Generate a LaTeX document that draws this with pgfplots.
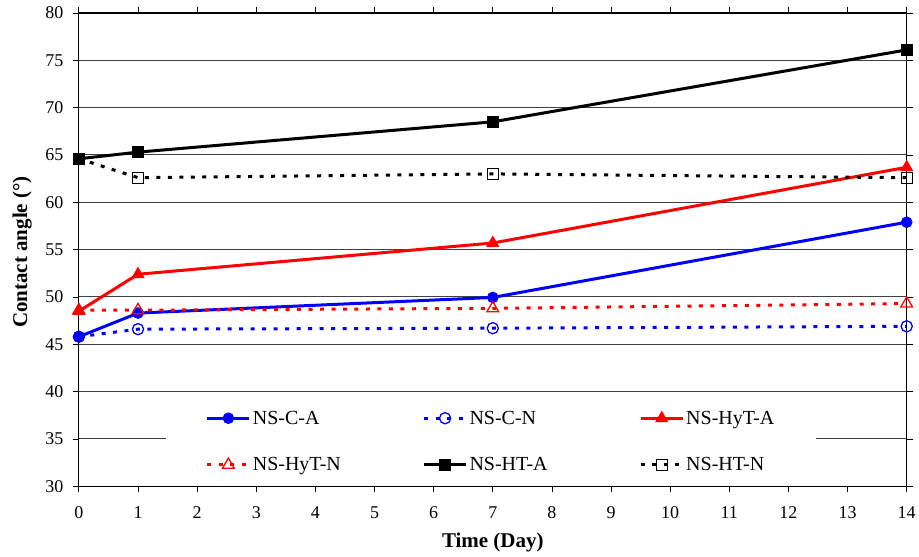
\documentclass[border=0pt]{standalone}
\usepackage{fontspec}
\setmainfont{Liberation Serif}
\usepackage{pgfplots}
\pgfplotsset{compat=1.18}
\begin{document}
\begin{tikzpicture}
\begin{axis}[
  scale only axis, width=829bp, height=474bp,
  xmin=0, xmax=14, ymin=30, ymax=80,
  xtick={0,1,...,14}, ytick={30,35,...,80},
  tick align=outside, major tick length=6bp,
  tick style={black, line width=0.8bp},
  axis line style={black, line width=1.2bp},
  ymajorgrids, grid style={black!75, line width=1bp},
  /pgf/number format/assume math mode=true,
  tick label style={font=\fontsize{18bp}{20bp}\selectfont},
  xticklabel style={yshift=-11bp},
  yticklabel style={xshift=-6bp},
  xlabel={\textbf{Time (Day)}},
  ylabel={\textbf{Contact angle (°)}},
  label style={font=\fontsize{21bp}{24bp}\selectfont},
  xlabel style={at={(axis description cs:0.5,-0.118)}, anchor=center},
  ylabel style={at={(axis description cs:-0.0685,0.495)}, anchor=center},
  legend columns=3,
  legend image code/.code={\draw[mark repeat=2,mark phase=2] plot coordinates {(0bp,0bp) (21bp,0bp) (42bp,0bp)};},
  legend style={draw=none, fill=white, at={(axis cs:6.97,30.2)}, anchor=south,
    inner xsep=40bp, inner ysep=10bp, row sep=28bp,
    font=\fontsize{20bp}{22bp}\selectfont,
    nodes={inner xsep=2bp}},
]
\addplot[blue, line width=3bp, mark=*, mark size=5.3bp, mark options={solid, fill=blue, line width=1bp}]
  coordinates {(0,45.8) (1,48.3) (7,49.95) (14,57.9)};
\addlegendentry{\makebox[168bp][l]{NS-C-A}}
\addplot[blue, line width=3bp, dash pattern=on 4bp off 7.5bp, mark=o, mark size=5.6bp, mark options={solid, line width=1.3bp}]
  coordinates {(0,45.8) (1,46.6) (7,46.7) (14,46.9)};
\addlegendentry{\makebox[168bp][l]{NS-C-N}}
\addplot[red, line width=3bp, mark=triangle*, mark size=6.6bp, mark options={solid, fill=red, line width=1bp}]
  coordinates {(0,48.5) (1,52.4) (7,55.7) (14,63.7)};
\addlegendentry{\makebox[88bp][l]{NS-HyT-A}}
\addplot[red, line width=3bp, dash pattern=on 4bp off 7.5bp, mark=triangle, mark size=6.8bp, mark options={solid, line width=1.3bp}]
  coordinates {(0,48.6) (1,48.6) (7,48.8) (14,49.3)};
\addlegendentry{\makebox[168bp][l]{NS-HyT-N}}
\addplot[black, line width=3bp, mark=square*, mark size=5.3bp, mark options={solid, fill=black, line width=1bp}]
  coordinates {(0,64.6) (1,65.3) (7,68.5) (14,76.1)};
\addlegendentry{\makebox[168bp][l]{NS-HT-A}}
\addplot[black, line width=3bp, dash pattern=on 4bp off 7.5bp, mark=square, mark size=5.5bp, mark options={solid, line width=1.3bp}]
  coordinates {(0,64.6) (1,62.6) (7,63.0) (14,62.6)};
\addlegendentry{\makebox[88bp][l]{NS-HT-N}}
\end{axis}
\path[use as bounding box] ([xshift=-79bp,yshift=-70bp]current axis.south west) rectangle ([xshift=11bp,yshift=13bp]current axis.north east);
\end{tikzpicture}
\end{document}
